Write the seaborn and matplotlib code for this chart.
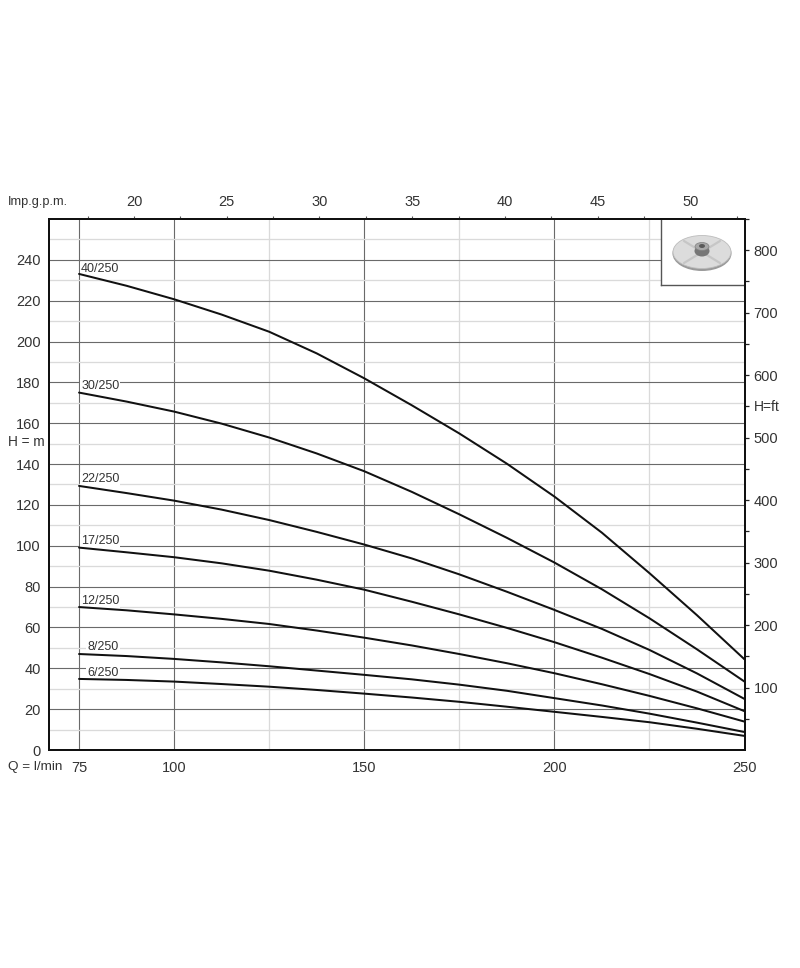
import pandas as pd
import matplotlib
matplotlib.use("Agg")
import matplotlib.pyplot as plt
import seaborn as sns
from matplotlib.patches import Ellipse

# flow in l/min, head in m
flow = [75, 87.5, 100, 112.5, 125, 137.5, 150, 162.5, 175, 187.5, 200, 212.5, 225, 237.5, 250]
head_40 = [233.1, 227.3, 220.7, 213.2, 204.8, 194.2, 182, 168.8, 155, 140.2, 124.1, 106.4, 86.6, 66, 44.4]
head_30 = [175, 170.6, 165.7, 159.8, 153, 145.2, 136.5, 126.4, 115.4, 103.9, 91.8, 78.7, 64.5, 49.3, 33.5]
head_22 = [129.3, 125.8, 122.1, 117.7, 112.6, 106.8, 100.6, 93.8, 86, 77.5, 68.6, 59.3, 49, 37.5, 25]
head_17 = [99.1, 96.8, 94.4, 91.4, 87.8, 83.4, 78.5, 72.6, 66.4, 59.8, 52.8, 45.2, 37.2, 28.6, 19]
head_12 = [70, 68.4, 66.4, 64.2, 61.7, 58.5, 55, 51.2, 47, 42.5, 37.6, 32.2, 26.5, 20.4, 13.9]
head_8 = [47, 46, 44.6, 42.9, 41, 38.9, 36.8, 34.6, 32, 29, 25.4, 21.8, 17.8, 13.4, 8.8]
head_6 = [34.8, 34.3, 33.5, 32.3, 31, 29.4, 27.6, 25.7, 23.6, 21.2, 18.7, 16.2, 13.6, 10.4, 6.9]

curve_names = ["40/250", "30/250", "22/250", "17/250", "12/250", "8/250", "6/250"]
curve_heads = [head_40, head_30, head_22, head_17, head_12, head_8, head_6]
label_offsets = [(1.5, -0.7), (1.5, 0.5), (1.5, 0.5), (1.5, 0.5), (1.5, 0), (6, 1), (6, 0)]

x_major = [75, 100, 150, 200, 250]
x_minor = [125, 175, 225]
gpm_labelled = [20, 25, 30, 35, 40, 45, 50]
gpm_minor = [17.5, 22.5, 27.5, 32.5, 37.5, 42.5, 47.5, 52.5]
ft_labelled = [100, 200, 300, 400, 500, 600, 700, 800]
ft_minor = [50, 150, 250, 350, 450, 550, 650, 750, 850]

sns.set_style("white")
plt.rcParams["font.family"] = ["Liberation Sans", "DejaVu Sans"]
TXT = "#333333"

rows = []
for name, heads in zip(curve_names, curve_heads):
    for q, h in zip(flow, heads):
        rows.append({"q": q, "h": h, "curve": name})
df = pd.DataFrame(rows)

fig = plt.figure(figsize=(8, 9.68), dpi=100)
ax = fig.add_axes([49 / 800, 1 - 750 / 968, 695.5 / 800, 531 / 968])

sns.lineplot(data=df, x="q", y="h", hue="curve", palette=["#111111"] * 7, linewidth=1.45,
             legend=False, errorbar=None, sort=False, ax=ax, zorder=5)

ax.set_xlim(67.1, 250)
ax.set_ylim(0, 260)
ax.set_xlabel("")
ax.set_ylabel("")
ax.set_xticks(x_major)
ax.set_xticks(x_minor, minor=True)
ax.set_yticks(range(0, 241, 20))
ax.set_yticks(range(10, 260, 20), minor=True)
ax.grid(True, which="major", color="#6a6a6a", linewidth=0.8)
ax.grid(True, which="minor", color="#dadada", linewidth=0.95)
ax.set_axisbelow(True)
ax.tick_params(which="both", length=0)
ax.tick_params(axis="x", labelsize=10.5, labelcolor=TXT, pad=8)
ax.tick_params(axis="y", labelsize=10.5, labelcolor=TXT, pad=6)

# right axis, feet
ax_ft = ax.twinx()
ax_ft.set_ylim(0, 850)
ax_ft.set_yticks(ft_labelled)
ax_ft.set_yticks(ft_minor, minor=True)
ax_ft.tick_params(axis="y", which="both", direction="out", length=3, width=0.9, color="#222222",
                  labelsize=10.5, labelcolor=TXT, pad=3.5)
ax_ft.grid(False)

# top axis, imperial gallons
ax_gpm = ax.twiny()
ax_gpm.set_xlim(15.42, 52.91)
ax_gpm.set_xticks(gpm_labelled)
ax_gpm.set_xticks(gpm_minor, minor=True)
ax_gpm.tick_params(axis="x", which="both", direction="out", length=2.5, width=0.8, color="#555555",
                   labelsize=10.5, labelcolor=TXT, pad=4.5)
ax_gpm.grid(False)

for a in [ax, ax_ft, ax_gpm]:
    for spine in a.spines.values():
        spine.set_color("#111111")
        spine.set_linewidth(1.3)
        spine.set_visible(True)

for name, heads, off in zip(curve_names, curve_heads, label_offsets):
    ax.annotate(name, xy=(flow[0], heads[0]), xytext=off, textcoords="offset points",
                fontsize=9, color=TXT, ha="left", va="bottom", zorder=3,
                bbox=dict(facecolor="white", edgecolor="none", pad=0.7))

fig.text(8 / 800, 1 - 202 / 968, "Imp.g.p.m.", fontsize=9.2, color=TXT, va="center", ha="left")
fig.text(8 / 800, 1 - 442 / 968, "H = m", fontsize=9.8, color=TXT, va="center", ha="left")
fig.text(8 / 800, 1 - 767 / 968, "Q = l/min", fontsize=9.7, color=TXT, va="center", ha="left")
fig.text(754 / 800, 1 - 407 / 968, "H=ft", fontsize=10, color=TXT, va="center", ha="left")

# picture of the impeller in the top right corner, drawn in pixel units
box = ax.inset_axes([(661 - 49) / 695.5, (750 - 285) / 531, (744.5 - 661) / 695.5, 66 / 531])
box.set_zorder(20)
box.set_xlim(661, 744.5)
box.set_ylim(285, 219)
box.set_xticks([])
box.set_yticks([])
box.set_facecolor("white")
box.spines["top"].set_visible(False)
box.spines["right"].set_visible(False)
box.spines["left"].set_color("#555555")
box.spines["bottom"].set_color("#555555")
box.spines["left"].set_linewidth(1)
box.spines["bottom"].set_linewidth(1)
box.add_patch(Ellipse((702, 253.5), 59, 35, fc="#9a9a9a", ec="none"))
box.add_patch(Ellipse((702, 252), 58, 33, fc="#dcdcdc", ec="#bdbdbd", lw=0.6))
for x0, y0, x1, y1 in [(684, 241, 720, 263), (720, 241, 684, 263)]:
    box.plot([x0, x1], [y0, y1], color="#c6c6c6", lw=1.6, solid_capstyle="round", zorder=2)
box.add_patch(Ellipse((702, 251), 15, 11, fc="#777777", ec="none", zorder=3))
box.add_patch(Ellipse((702, 246.5), 14, 8, fc="#a8a8a8", ec="#808080", lw=0.5, zorder=4))
box.add_patch(Ellipse((702, 246), 6, 4, fc="#5a5a5a", ec="none", zorder=5))

fig.savefig("out.png", dpi=100)
